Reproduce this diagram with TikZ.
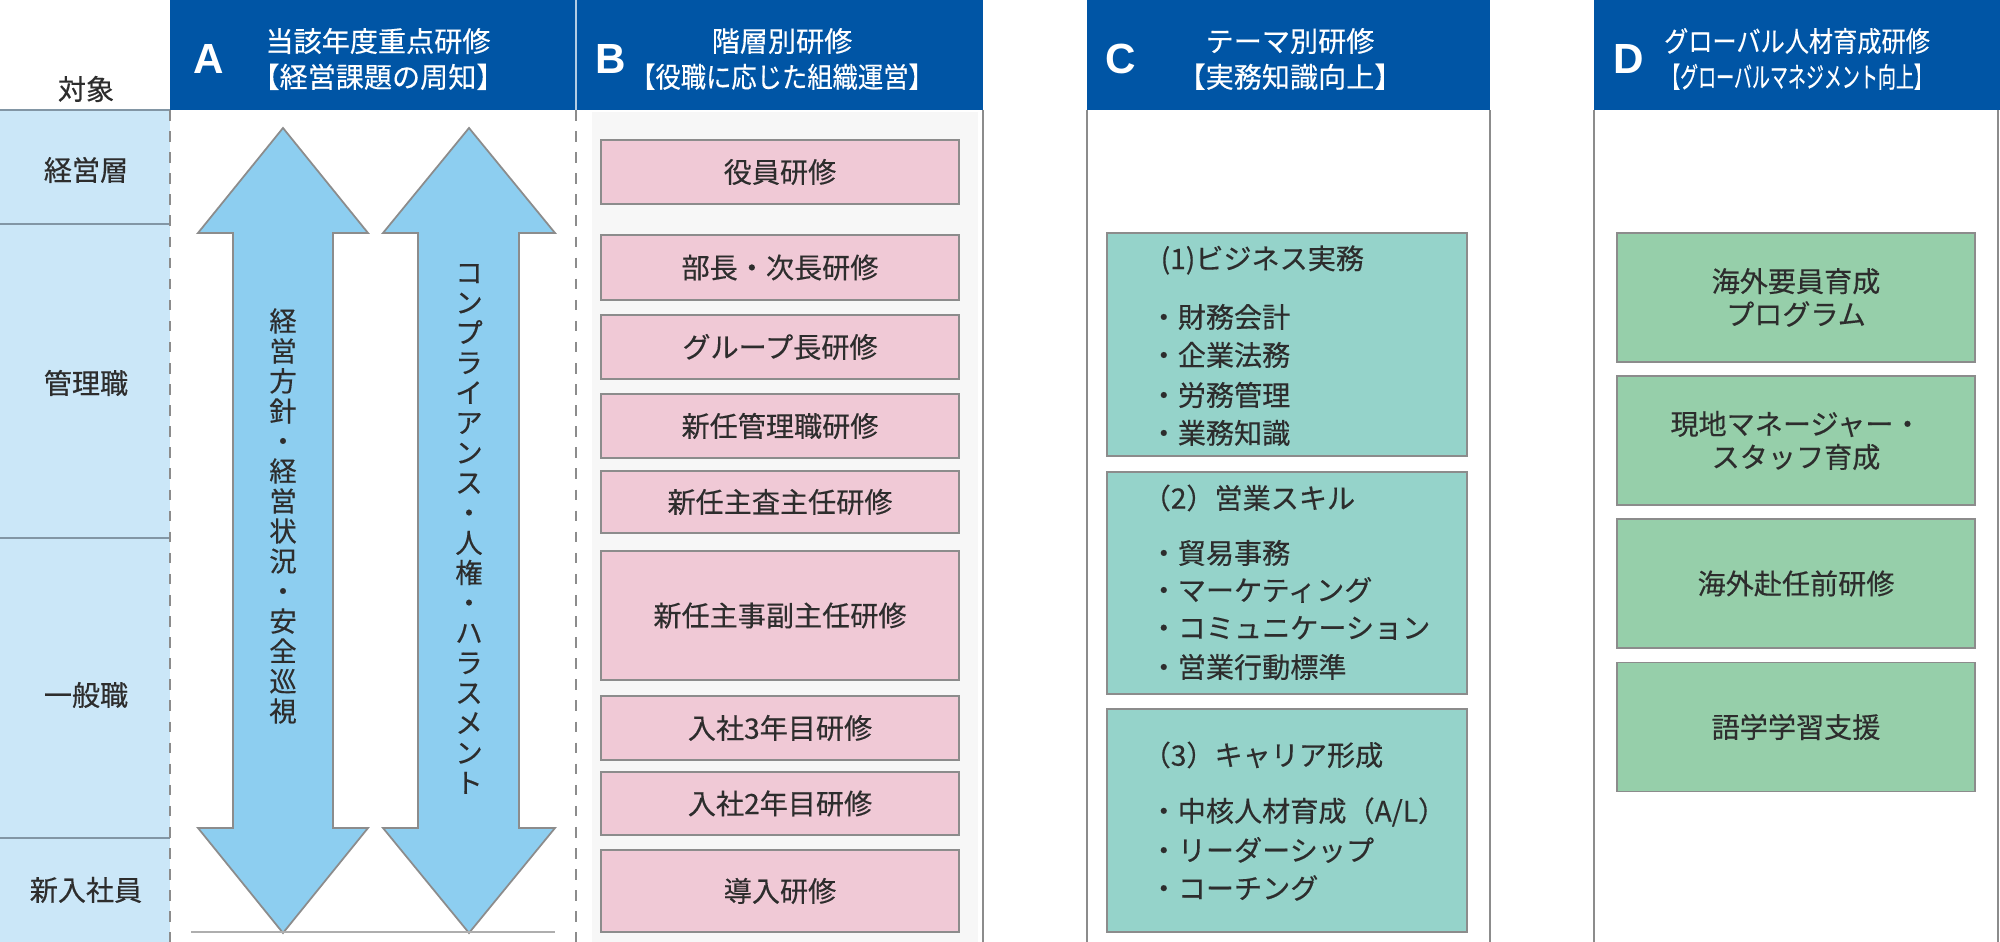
\documentclass[tikz,border=0pt]{standalone}
\usepackage{fontspec}
\setmainfont{Noto Sans CJK JP}[FakeBold=0.35]
\newfontfamily\letterfont{Liberation Sans}

\definecolor{hdrblue}{RGB}{0,85,165}
\definecolor{lvlblue}{RGB}{203,231,248}
\definecolor{arrowblue}{RGB}{141,206,240}
\definecolor{pinkfill}{RGB}{240,201,214}
\definecolor{tealfill}{RGB}{149,211,202}
\definecolor{greenfill}{RGB}{150,207,170}
\definecolor{boxgray}{RGB}{140,140,140}
\definecolor{linegray}{RGB}{130,150,165}
\definecolor{textgray}{RGB}{45,45,45}

\begin{document}
\begin{tikzpicture}[
    hdr/.style={fill=hdrblue, draw=none},
    letter/.style={text=white, font=\letterfont\bfseries\fontsize{12}{14}\selectfont},
    title/.style={text=white, align=center, font=\fontsize{8}{10.2}\selectfont},
    lvl/.style={text=textgray, font=\fontsize{8}{9}\selectfont},
    arrowshape/.style={fill=arrowblue, draw=boxgray, line width=0.5pt},
    vtext/.style={text=textgray, align=center, font=\fontsize{7.8}{8.54}\selectfont},
    pinkbox/.style={draw=boxgray, fill=pinkfill, minimum width=3.58cm, inner sep=0pt,
        text=textgray, font=\fontsize{8}{9}\selectfont},
    tealbox/.style={draw=boxgray, fill=tealfill, minimum width=3.60cm, inner sep=0pt},
    greenbox/.style={draw=boxgray, fill=greenfill, minimum width=3.58cm, minimum height=1.29cm,
        inner sep=0pt, align=center, text=textgray, font=\fontsize{8}{9.4}\selectfont},
    item/.style={anchor=west, inner sep=0pt, text=textgray, font=\fontsize{8}{9}\selectfont}
]
    \useasboundingbox (0,0) rectangle (20,9.42);

    % target levels
    \fill[lvlblue] (0,0) rectangle (1.70,8.32);
    \draw[linegray, line width=0.6pt] (0,8.32) -- (1.70,8.32);
    \draw[linegray, line width=0.6pt] (0,7.18) -- (1.70,7.18);
    \draw[linegray, line width=0.6pt] (0,4.04) -- (1.70,4.04);
    \draw[linegray, line width=0.6pt] (0,1.04) -- (1.70,1.04);
    \node[lvl] (target) at (0.86,8.53) {対象};
    \node[lvl] (exec) at (0.86,7.72) {経営層};
    \node[lvl] (mgr) at (0.86,5.59) {管理職};
    \node[lvl] (staff) at (0.86,2.47) {一般職};
    \node[lvl] (fresh) at (0.86,0.52) {新入社員};

    % headers
    \draw[hdr] (1.70,8.32) rectangle (9.83,9.42);
    \draw[white!70!hdrblue, line width=0.5pt] (5.76,8.32) -- (5.76,9.42);
    \draw[hdr] (10.87,8.32) rectangle (14.90,9.42);
    \draw[hdr] (15.94,8.32) rectangle (20,9.42);

    \node[letter] (letA) at (2.09,8.83) {A};
    \node[title] (titleA) at (3.78,8.83) {当該年度重点研修\\【経営課題の周知】};
    \node[letter] (letB) at (6.11,8.83) {B};
    \node[title] (titleB) at (7.82,8.83) {階層別研修\\\scalebox{0.9}[1]{【役職に応じた組織運営】}};
    \node[letter] (letC) at (11.21,8.83) {C};
    \node[title] (titleC) at (12.90,8.83) {テーマ別研修\\【実務知識向上】};
    \node[letter] (letD) at (16.29,8.83) {D};
    \node[title] (titleD) at (17.97,8.83) {\scalebox{0.86}[1]{グローバル人材育成研修}\\\scalebox{0.64}[1]{【グローバルマネジメント向上】}};

    % column borders
    \draw[boxgray, dashed, line width=0.6pt] (1.70,8.32) -- (1.70,0);
    \draw[boxgray, dashed, line width=0.6pt] (5.76,8.32) -- (5.76,0);
    \fill[gray!6] (5.92,0) rectangle (9.78,8.30);
    \draw[boxgray, line width=0.6pt] (9.83,8.32) -- (9.83,0);
    \draw[boxgray, line width=0.6pt] (10.87,0) -- (10.87,8.32);
    \draw[boxgray, line width=0.6pt] (14.90,0) -- (14.90,8.32);
    \draw[boxgray, line width=0.6pt] (15.94,0) -- (15.94,8.32);
    \draw[boxgray, line width=0.6pt] (19.98,0) -- (19.98,8.32);

    % A: two double arrows
    \draw[arrowshape] (2.83,8.14) -- (3.68,7.09) -- (3.33,7.09) -- (3.33,1.14) -- (3.68,1.14)
        -- (2.83,0.09) -- (1.98,1.14) -- (2.33,1.14) -- (2.33,7.09) -- (1.98,7.09) -- cycle;
    \draw[arrowshape] (4.69,8.14) -- (5.55,7.09) -- (5.19,7.09) -- (5.19,1.14) -- (5.55,1.14)
        -- (4.69,0.09) -- (3.83,1.14) -- (4.18,1.14) -- (4.18,7.09) -- (3.83,7.09) -- cycle;
    \draw[boxgray!70, line width=0.5pt] (1.91,0.10) -- (5.55,0.10);
    \node[vtext] (policy) at (2.83,4.26) {経\\営\\方\\針\\・\\経\\営\\状\\況\\・\\安\\全\\巡\\視};
    \node[vtext] (comply) at (4.69,4.13) {コ\\ン\\プ\\ラ\\イ\\ア\\ン\\ス\\・\\人\\権\\・\\ハ\\ラ\\ス\\メ\\ン\\ト};

    % B: training by rank
    \node[pinkbox, minimum height=0.64cm] (b1) at (7.80,7.70) {役員研修};
    \node[pinkbox, minimum height=0.65cm] (b2) at (7.80,6.745) {部長・次長研修};
    \node[pinkbox, minimum height=0.64cm] (b3) at (7.80,5.95) {グループ長研修};
    \node[pinkbox, minimum height=0.64cm] (b4) at (7.80,5.16) {新任管理職研修};
    \node[pinkbox, minimum height=0.62cm] (b5) at (7.80,4.40) {新任主査主任研修};
    \node[pinkbox, minimum height=1.29cm] (b6) at (7.80,3.265) {新任主事副主任研修};
    \node[pinkbox, minimum height=0.64cm] (b7) at (7.80,2.14) {入社3年目研修};
    \node[pinkbox, minimum height=0.63cm] (b8) at (7.80,1.385) {入社2年目研修};
    \node[pinkbox, minimum height=0.82cm] (b9) at (7.80,0.51) {導入研修};

    % C: training by theme
    \node[tealbox, minimum height=2.23cm] (c1) at (12.87,5.975) {};
    \node[tealbox, minimum height=2.22cm] (c2) at (12.87,3.59) {};
    \node[tealbox, minimum height=2.23cm] (c3) at (12.87,1.215) {};

    \node[item] (c1t) at (11.60,6.82) {(1)ビジネス実務};
    \node[item] (c1a) at (11.49,6.25) {・財務会計};
    \node[item] (c1b) at (11.49,5.87) {・企業法務};
    \node[item] (c1c) at (11.49,5.47) {・労務管理};
    \node[item] (c1d) at (11.49,5.09) {・業務知識};

    \node[item] (c2t) at (11.42,4.44) {（2）営業スキル};
    \node[item] (c2a) at (11.49,3.89) {・貿易事務};
    \node[item] (c2b) at (11.49,3.52) {・マーケティング};
    \node[item] (c2c) at (11.49,3.14) {・コミュニケーション};
    \node[item] (c2d) at (11.49,2.75) {・営業行動標準};

    \node[item] (c3t) at (11.42,1.87) {（3）キャリア形成};
    \node[item] (c3a) at (11.49,1.30) {・中核人材育成（A/L）};
    \node[item] (c3b) at (11.49,0.92) {・リーダーシップ};
    \node[item] (c3c) at (11.49,0.54) {・コーチング};

    % D: global training
    \node[greenbox] (d1) at (17.96,6.445) {海外要員育成\\プログラム};
    \node[greenbox] (d2) at (17.96,5.015) {現地マネージャー・\\スタッフ育成};
    \node[greenbox] (d3) at (17.96,3.585) {海外赴任前研修};
    \node[greenbox] (d4) at (17.96,2.15) {語学学習支援};
\end{tikzpicture}
\end{document}
